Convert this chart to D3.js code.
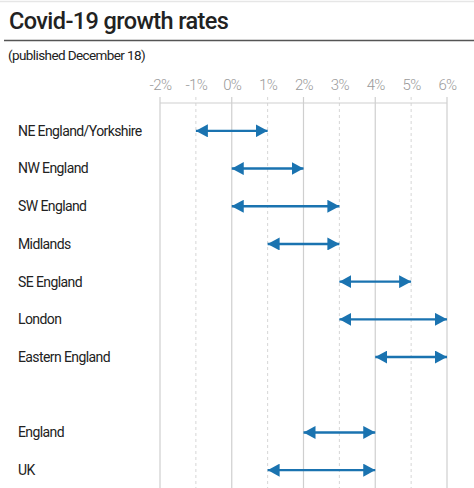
<!DOCTYPE html>
<html>
<head>
<meta charset="utf-8">
<script src="https://cdn.jsdelivr.net/npm/d3@7"></script>
<style>
  body { margin: 0; background: #fff; }
  svg { display: block; font-family: Roboto, "Noto Sans", sans-serif; }
</style>
</head>
<body>
<div id="chart"></div>
<script>
// growth rate ranges, per cent
var regions = ["NE England/Yorkshire", "NW England", "SW England", "Midlands", "SE England",
               "London", "Eastern England", "", "England", "UK"];
var lowValues = [-1, 0, 0, 1, 3, 3, 4, null, 2, 1];
var highValues = [1, 2, 3, 3, 5, 6, 6, null, 4, 4];
var tickValues = [-2, -1, 0, 1, 2, 3, 4, 5, 6];

var width = 474, height = 488;
var blue = "#1a73b0";

var svg = d3.select("#chart").append("svg")
    .attr("width", width)
    .attr("height", height);

// frame and title
svg.append("line")
    .attr("x1", 0).attr("x2", width).attr("y1", 1.5).attr("y2", 1.5)
    .attr("stroke", "#e6e6e6").attr("stroke-width", 1.5);
svg.append("text")
    .attr("x", 9).attr("y", 29)
    .attr("font-size", 23.5).attr("font-weight", 500)
    .attr("letter-spacing", -0.6)
    .attr("fill", "#222")
    .text("Covid-19 growth rates");
svg.append("line")
    .attr("x1", 4).attr("x2", width).attr("y1", 40.5).attr("y2", 40.5)
    .attr("stroke", "#555").attr("stroke-width", 1.5);
svg.append("text")
    .attr("x", 8).attr("y", 60)
    .attr("font-size", 13.5)
    .attr("letter-spacing", -0.6)
    .attr("fill", "#222")
    .text("(published December 18)");

var x = d3.scaleLinear().domain([-2, 6]).range([160, 447]);
var y = d3.scaleBand().domain(d3.range(regions.length)).range([112, 489]);

// grid
var grid = svg.append("g").attr("class", "grid");
grid.selectAll("line")
    .data(tickValues)
    .enter()
    .append("line")
    .attr("x1", function (d) { return x(d); })
    .attr("x2", function (d) { return x(d); })
    .attr("y1", 97)
    .attr("y2", height)
    .attr("stroke", function (d) { return d % 2 == 0 ? "#cfcfcf" : "#d6d6d6"; })
    .attr("stroke-width", function (d) { return d % 2 == 0 ? 1.2 : 1; })
    .attr("stroke-dasharray", function (d) { return d % 2 == 0 ? null : "3,3"; });
svg.append("line")
    .attr("x1", x(-2)).attr("x2", x(6)).attr("y1", 103).attr("y2", 103)
    .attr("stroke", "#cfcfcf").attr("stroke-width", 1.2);

// top axis labels
var axis = d3.axisTop(x)
    .tickValues(tickValues)
    .tickSize(0)
    .tickFormat(function (d) { return d + "%"; });
var axisG = svg.append("g")
    .attr("transform", "translate(0,82)")
    .call(axis);
axisG.select(".domain").remove();
axisG.selectAll("text")
    .attr("font-family", "Roboto, sans-serif")
    .attr("font-size", 15)
    .attr("font-weight", 300)
    .attr("letter-spacing", -0.6)
    .attr("fill", "#9a9a9a")
    .attr("dy", "0.7em");

// row labels
svg.append("g").selectAll("text")
    .data(regions)
    .enter()
    .append("text")
    .attr("x", 18)
    .attr("y", function (d, i) { return y(i) + y.bandwidth() / 2; })
    .attr("dy", "0.35em")
    .attr("font-size", 14)
    .attr("letter-spacing", -0.6)
    .attr("fill", "#222")
    .text(function (d) { return d; });

// arrows
var defs = svg.append("defs");
defs.append("marker")
    .attr("id", "head")
    .attr("viewBox", "0 0 10 10")
    .attr("preserveAspectRatio", "none")
    .attr("refX", 10).attr("refY", 5)
    .attr("markerWidth", 12).attr("markerHeight", 13)
    .attr("markerUnits", "userSpaceOnUse")
    .attr("orient", "auto-start-reverse")
    .append("path")
    .attr("d", "M0,0L10,5L0,10Z")
    .attr("fill", blue);

var rows = d3.range(regions.length).filter(function (i) { return lowValues[i] != null; });
svg.append("g").selectAll("line")
    .data(rows)
    .enter()
    .append("line")
    .attr("x1", function (i) { return x(lowValues[i]); })
    .attr("x2", function (i) { return x(highValues[i]); })
    .attr("y1", function (i) { return y(i) + y.bandwidth() / 2; })
    .attr("y2", function (i) { return y(i) + y.bandwidth() / 2; })
    .attr("stroke", blue)
    .attr("stroke-width", 2.4)
    .attr("marker-start", "url(#head)")
    .attr("marker-end", "url(#head)");
</script>
</body>
</html>
